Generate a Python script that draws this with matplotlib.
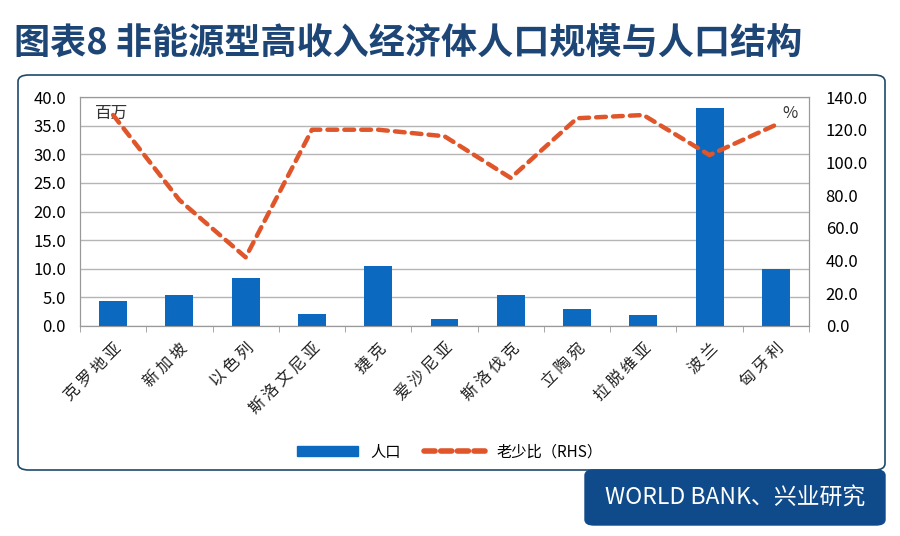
import matplotlib.pyplot as plt
from matplotlib.patches import FancyBboxPatch, Rectangle
from matplotlib.lines import Line2D

plt.rcParams['font.family'] = ['Noto Sans CJK SC', 'DejaVu Sans']

countries = ["克罗地亚", "新加坡", "以色列", "斯洛文尼亚", "捷克", "爱沙尼亚",
             "斯洛伐克", "立陶宛", "拉脱维亚", "波兰", "匈牙利"]
population = [4.3, 5.5, 8.4, 2.1, 10.5, 1.3, 5.4, 2.9, 2.0, 38.0, 9.9]
old_young_ratio = [129, 77, 42, 120, 120, 116, 90.5, 127, 129, 104.5, 123]

left_ticks = [0, 5, 10, 15, 20, 25, 30, 35, 40]
right_ticks = [0, 20, 40, 60, 80, 100, 120, 140]

bar_color = "#0b6abf"
line_color = "#e0562a"
navy = "#0f4a8a"
title_color = "#1d4677"

fig = plt.figure(figsize=(9, 5.36), dpi=100)

# outer frame
frame = FancyBboxPatch((18 / 900, 1 - 470 / 536), 867 / 900, 395 / 536,
                       boxstyle="round,pad=0,rounding_size=0.012",
                       transform=fig.transFigure, facecolor="white",
                       edgecolor="#1d4a6b", linewidth=1.2, zorder=-2)
fig.patches.append(frame)

# source box
src = FancyBboxPatch((585 / 900, 1 - 525 / 536), 300 / 900, 55 / 536,
                     boxstyle="round,pad=0,rounding_size=0.01",
                     transform=fig.transFigure, facecolor=navy,
                     edgecolor=navy, zorder=-1)
fig.patches.append(src)
fig.text(735 / 900, 1 - 498 / 536, "WORLD BANK、兴业研究", color="white",
         fontsize=16.5, ha="center", va="center")

fig.text(14 / 900, 1 - 44 / 536, "图表8 非能源型高收入经济体人口规模与人口结构",
         color=title_color, fontsize=26, fontweight="bold",
         ha="left", va="center")

ax = fig.add_axes([80 / 900, 1 - 326 / 536, 729 / 900, 229 / 536])
x = list(range(len(countries)))
ax.bar(x, population, width=0.42, color=bar_color, zorder=3)
ax.set_ylim(0, 40)
ax.set_xlim(-0.5, len(countries) - 0.5)
ax.set_yticks(left_ticks)
ax.set_yticklabels([f"{v:.1f}" for v in left_ticks], fontsize=12)
ax.grid(axis="y", color="#b5b5b5", linewidth=1, zorder=0)
ax.set_xticks(x)
ax.set_xticklabels(["\u2009".join(c) for c in countries], rotation=45,
                   ha="right", rotation_mode="anchor", fontsize=11.5,
                   color="#222222")
ax.tick_params(axis="x", length=0, pad=10)
ax.set_xticks([i - 0.5 for i in range(len(countries) + 1)], minor=True)
ax.tick_params(axis="x", which="minor", length=4, color="#999999")
ax.tick_params(axis="y", length=0, pad=10)
for s in ax.spines.values():
    s.set_color("#999999")
ax.text(0.02, 0.93, "百万", transform=ax.transAxes, fontsize=12, color="#333333",
        ha="left", va="center")

ax2 = ax.twinx()
ax2.plot(x, old_young_ratio, color=line_color, linestyle=(0, (2.2, 1.6)),
         linewidth=3.2, dash_capstyle="round", zorder=4)
ax2.set_ylim(0, 140)
ax2.set_yticks(right_ticks)
ax2.set_yticklabels([f"{v:.1f}" for v in right_ticks], fontsize=12)
ax2.tick_params(axis="y", length=0, pad=12)
for s in ax2.spines.values():
    s.set_color("#999999")
ax2.text(0.985, 0.93, "%", transform=ax.transAxes, fontsize=12, color="#333333",
         ha="right", va="center")

handles = [Rectangle((0, 0), 1, 1, color=bar_color),
           Line2D([0], [0], color=line_color, linestyle=(0, (2.0, 1.0)),
                  linewidth=4, dash_capstyle="round")]
fig.legend(handles, ["人口", "老少比（RHS）"], loc="center",
           bbox_to_anchor=(450 / 900, 1 - 452 / 536), ncol=2, frameon=False,
           fontsize=11, handlelength=4, handleheight=0.6, columnspacing=1.5)

fig.savefig("out.png", dpi=100)
